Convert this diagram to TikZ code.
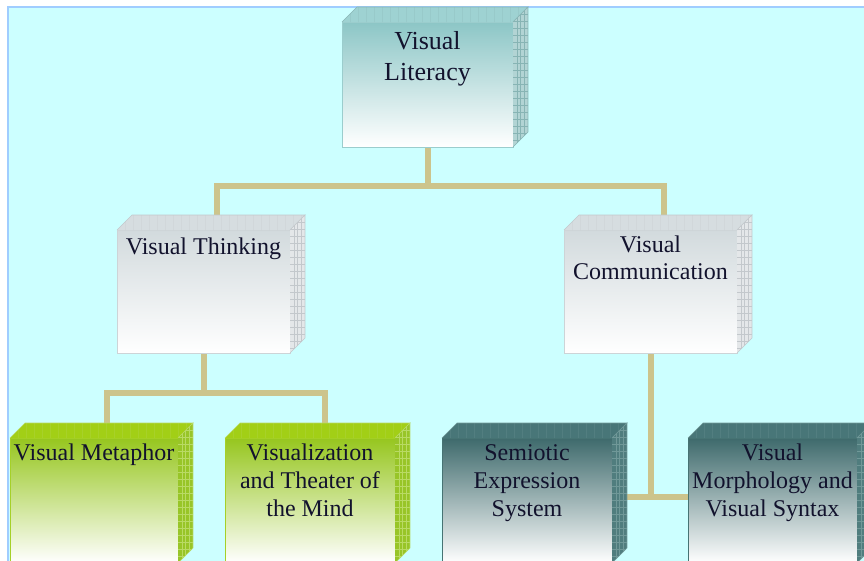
\documentclass[tikz,border=0pt]{standalone}
\usepackage{fontspec}
\setmainfont{Liberation Serif}
\usetikzlibrary{calc}
\pgfdeclarelayer{bg}
\pgfsetlayers{bg,main}
\definecolor{cyanbg}{RGB}{204,255,255}
\definecolor{cyanedge}{RGB}{160,205,255}
\definecolor{conncol}{RGB}{204,196,140}
\definecolor{txtcol}{RGB}{18,18,45}
\definecolor{litfront}{RGB}{140,198,198}
\definecolor{littop}{RGB}{158,210,210}
\definecolor{litside}{RGB}{178,212,212}
\definecolor{litgrid}{RGB}{135,180,180}
\definecolor{litedge}{RGB}{155,205,205}
\definecolor{midfront}{RGB}{210,218,221}
\definecolor{midtop}{RGB}{214,221,224}
\definecolor{midside}{RGB}{228,231,233}
\definecolor{midgrid}{RGB}{195,200,204}
\definecolor{midedge}{RGB}{205,212,215}
\definecolor{grnfront}{RGB}{150,198,30}
\definecolor{grntop}{RGB}{162,207,22}
\definecolor{grnside}{RGB}{152,197,40}
\definecolor{grngrid}{RGB}{185,218,100}
\definecolor{grnedge}{RGB}{165,208,40}
\definecolor{tealfront}{RGB}{62,106,108}
\definecolor{tealtop}{RGB}{72,118,120}
\definecolor{tealside}{RGB}{80,125,126}
\definecolor{tealgrid}{RGB}{112,152,152}
\definecolor{tealedge}{RGB}{70,115,115}
\tikzset{
  front/.style={rectangle, outer sep=0pt, inner sep=0pt, line width=0.8pt},
  lbl/.style={anchor=north, inner sep=0pt, align=center, text=txtcol,
    font=\fontsize{24}{28}\selectfont},
  conn/.style={draw=conncol, line width=6pt},
}
\newcommand\cubefaces[4]{%
  \fill[#2] (#1.north west) -- ++(15,-15) -- ($(#1.north east)+(15,-15)$) -- (#1.north east) -- cycle;
  \begin{scope}
    \clip (#1.north west) -- ++(15,-15) -- ($(#1.north east)+(15,-15)$) -- (#1.north east) -- cycle;
    \foreach \k in {0,...,25} \draw[#4, line width=0.4pt, opacity=0.25] ($(#1.north west)+(8+\k*8,0)$) -- ++(0,-15);
  \end{scope}
  \draw[#4, line width=0.6pt] (#1.north west) -- ++(15,-15) -- ($(#1.north east)+(15,-15)$) -- (#1.north east);
  \begin{scope}
    \clip (#1.north east) -- ++(15,-15) -- ($(#1.south east)+(15,-15)$) -- (#1.south east) -- cycle;
    \fill[#3] ($(#1.north east)+(0,-15)$) rectangle ($(#1.south east)+(15,0)$);
    \foreach \k in {0,...,20} \draw[#4, line width=0.5pt] ($(#1.north east)+(0,-15+\k*7)$) -- ++(15,0);
    \foreach \k in {1,2,3} \draw[#4, line width=0.5pt] ($(#1.north east)+(\k*3.75,-15)$) -- ++(0,150);
  \end{scope}
  \draw[#4, line width=0.6pt] (#1.north east) -- ++(15,-15) -- ($(#1.south east)+(15,-15)$) -- (#1.south east);
}
\begin{document}
\begin{tikzpicture}[x=1pt,y=-1pt]
\useasboundingbox (0,0) rectangle (864,560);
\clip (0,0) rectangle (864,560);

% front faces
\node[front, top color=litfront, bottom color=white, draw=litedge, minimum width=171pt, minimum height=125pt] (lit) at (427.5,84.5) {};
\node[front, top color=midfront, bottom color=white, draw=midedge, minimum width=173pt, minimum height=123pt] (think) at (203.5,291.5) {};
\node[front, top color=midfront, bottom color=white, draw=midedge, minimum width=173pt, minimum height=123pt] (comm) at (650.5,291.5) {};
\node[front, top color=grnfront, bottom color=white, draw=grnedge, minimum width=168pt, minimum height=125pt] (meta) at (94,500.5) {};
\node[front, top color=grnfront, bottom color=white, draw=grnedge, minimum width=170pt, minimum height=125pt] (viz) at (310,500.5) {};
\node[front, top color=tealfront, bottom color=white, draw=tealedge, minimum width=170pt, minimum height=125pt] (semi) at (527,500.5) {};
\node[front, top color=tealfront, bottom color=white, draw=tealedge, minimum width=169pt, minimum height=125pt] (morph) at (772.5,500.5) {};

\cubefaces{lit}{littop}{litside}{litgrid}
\cubefaces{think}{midtop}{midside}{midgrid}
\cubefaces{comm}{midtop}{midside}{midgrid}
\cubefaces{meta}{grntop}{grnside}{grngrid}
\cubefaces{viz}{grntop}{grnside}{grngrid}
\cubefaces{semi}{tealtop}{tealside}{tealgrid}
\cubefaces{morph}{tealtop}{tealside}{tealgrid}

% labels
\node[lbl, font=\fontsize{26}{31}\selectfont] (litT) at ($(lit.north)+(0,9)$) {Visual\\Literacy};
\node[lbl] (thinkT) at ($(think.north)+(0,8)$) {Visual Thinking};
\node[lbl, font=\fontsize{24}{27}\selectfont] (commT) at ($(comm.north)+(0,6)$) {Visual\\Communication};
\node[lbl] (metaT) at ($(meta.north)+(0,6)$) {Visual Metaphor};
\node[lbl] (vizT) at ($(viz.north)+(0,6)$) {Visualization\\and Theater of\\the Mind};
\node[lbl] (semiT) at ($(semi.north)+(0,6)$) {Semiotic\\Expression\\System};
\node[lbl] (morphT) at ($(morph.north)+(0,6)$) {Visual\\Morphology and\\Visual Syntax};

\begin{pgfonlayer}{bg}
  \fill[white] (0,0) rectangle (864,560);
  \filldraw[fill=cyanbg, draw=cyanedge, line width=2pt] (8,7) rectangle (880,580);
  \coordinate (tA) at ($(think.north)+(13,0)$);
  \coordinate (tB) at ($(comm.north)+(13,0)$);
  \coordinate (mA) at ($(meta.north)+(13,0)$);
  \coordinate (mB) at ($(viz.north)+(15,0)$);
  \draw[conn] (lit.south) -- ++(0,39) coordinate (j1);
  \draw[conn] (tA) |- (j1) -| (tB);
  \draw[conn] (think.south) -- ++(0,40) coordinate (j2);
  \draw[conn] (mA) |- (j2) -| (mB);
  \draw[conn] (comm.south) -- ++(0,144) coordinate (j3);
  \draw[conn] (semi.east |- j3) -- (j3) -- (morph.west |- j3);
\end{pgfonlayer}
\end{tikzpicture}
\end{document}
